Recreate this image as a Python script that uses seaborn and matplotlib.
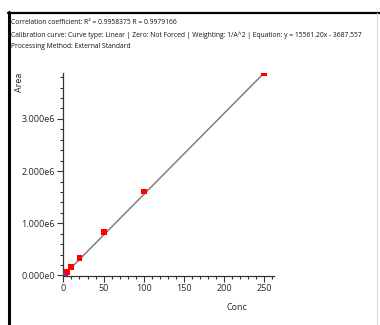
import matplotlib
matplotlib.use("Agg")
import matplotlib.pyplot as plt
import seaborn as sns
import numpy as np
import pandas as pd
from matplotlib.lines import Line2D
from matplotlib.ticker import MultipleLocator, FuncFormatter

# calibration standards
conc = [1, 2, 5, 10, 20, 50, 100, 250]
area = [12e3, 28e3, 75e3, 0.17e6, 0.34e6, 0.84e6, 1.61e6, 3.87e6]
blank_conc = [0]
blank_area = [5e3]

# fitted equation from the header
slope = 15561.20
intercept = -3687.557
fit_x = [0, 250]

header = [
    "Correlation coefficient: R\u00b2 = 0.9958375 R = 0.9979166",
    "Calibration curve: Curve type: Linear | Zero: Not Forced | Weighting: 1/A^2 | Equation: y = 15561.20x - 3687.557",
    "Processing Method: External Standard",
]

sns.set_style("ticks")
plt.rcParams['font.family'] = ['Open Sans', 'DejaVu Sans']

fig = plt.figure(figsize=(3.8, 3.25), dpi=100)
ax = fig.add_axes([63 / 380, 1 - 276 / 325, 211 / 380, 203 / 325])

df_fit = pd.DataFrame({"x": fit_x, "y": [slope * x + intercept for x in fit_x]})
sns.lineplot(data=df_fit, x="x", y="y", color="#808080", lw=1.1, ax=ax, zorder=2)

df = pd.DataFrame({"conc": conc, "area": area})
sns.scatterplot(data=df, x="conc", y="area", marker="s", color="#ff0000",
                s=18, edgecolor="none", ax=ax, zorder=3)
ax.scatter(blank_conc, blank_area, marker="s", color="#7030d0", s=12,
           edgecolors="none", zorder=4)

ax.set_xlim(-0.5, 262)
ax.set_ylim(-0.01e6, 3.88e6)
ax.xaxis.set_major_locator(MultipleLocator(50))
ax.xaxis.set_minor_locator(MultipleLocator(10))
ax.yaxis.set_major_locator(MultipleLocator(1e6))
ax.yaxis.set_minor_locator(MultipleLocator(0.2e6))
ax.yaxis.set_major_formatter(FuncFormatter(lambda v, p: "%.3fe%d" % (v / 1e6, 6 if v else 0)))
ax.tick_params(which="major", length=4, width=0.8, labelsize=6.5, color="#333333", pad=2)
ax.tick_params(which="minor", length=2.5, width=0.8, color="#333333")
sns.despine(ax=ax)
for s in ["left", "bottom"]:
    ax.spines[s].set_color("#333333")
    ax.spines[s].set_linewidth(0.9)

ax.set_xlabel("")
ax.set_ylabel("")
fig.text(237 / 380, 1 - 308 / 325, "Conc", fontsize=6.5, ha="center", va="center")
fig.text(20 / 380, 1 - 82 / 325, "Area", fontsize=6.5, ha="center", va="center", rotation=90)

for i, line in enumerate(header):
    fig.text(11 / 380, 1 - (23 + i * 12) / 325, line, fontsize=4.85, ha="left", va="center",
             color="#111111")

# screenshot frame
fig.add_artist(Line2D([9 / 380, 9 / 380], [0, 1 - 12 / 325], color="black", lw=2.2, transform=fig.transFigure))
fig.add_artist(Line2D([8 / 380, 1], [1 - 13 / 325, 1 - 13 / 325], color="black", lw=1.6, transform=fig.transFigure))
fig.add_artist(Line2D([377 / 380, 377 / 380], [0, 1 - 13 / 325], color="#dddddd", lw=0.8, transform=fig.transFigure))

fig.savefig("out.png", dpi=100)
